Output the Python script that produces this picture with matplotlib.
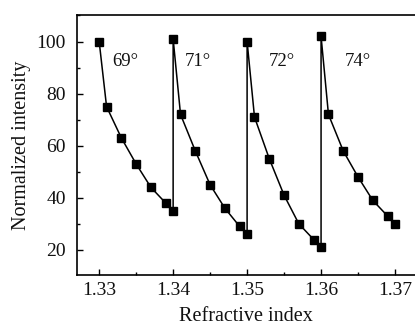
import matplotlib.pyplot as plt
from matplotlib.ticker import MultipleLocator

plt.rcParams['font.family'] = ['Liberation Serif', 'DejaVu Serif']

# refractive index and normalized intensity for each angle
n69 = [1.330, 1.331, 1.333, 1.335, 1.337, 1.339, 1.340]
i69 = [100, 75, 63, 53, 44, 38, 35]
n71 = [1.340, 1.341, 1.343, 1.345, 1.347, 1.349, 1.350]
i71 = [101, 72, 58, 45, 36, 29, 26]
n72 = [1.350, 1.351, 1.353, 1.355, 1.357, 1.359, 1.360]
i72 = [100, 71, 55, 41, 30, 24, 21]
n74 = [1.360, 1.361, 1.363, 1.365, 1.367, 1.369, 1.370]
i74 = [102, 72, 58, 48, 39, 33, 30]

angles = ['69°', '71°', '72°', '74°']
label_x = [1.3335, 1.3434, 1.3547, 1.3650]
label_y = 92.5

fig = plt.figure(figsize=(4.15, 3.25), dpi=100)
ax = fig.add_axes([0.1855, 0.154, 0.8145, 0.8])

x = n69 + n71 + n72 + n74
y = i69 + i71 + i72 + i74
ax.plot(x, y, color='black', lw=1.1, marker='s', ms=5.4, mfc='black', mec='black')

for a, lx in zip(angles, label_x):
    ax.text(lx, label_y, a, ha='center', va='center', fontsize=13.5, color='#111111')

ax.set_xlim(1.3270, 1.3727)
ax.set_ylim(10.4, 110.2)
ax.xaxis.set_minor_locator(MultipleLocator(0.005))
ax.yaxis.set_major_locator(MultipleLocator(20))
ax.yaxis.set_minor_locator(MultipleLocator(10))
ax.set_xticks([1.33, 1.34, 1.35, 1.36, 1.37])
ax.set_xticklabels(['1.33', '1.34', '1.35', '1.36', '1.37'])
ax.tick_params(which='both', direction='in', labelsize=14, width=1, labelcolor='#111111')
ax.tick_params(which='major', length=4)
ax.tick_params(which='minor', length=2.5)
ax.tick_params(axis='y', pad=8)
ax.tick_params(axis='x', pad=5)
ax.spines['right'].set_visible(False)
for s in ['left', 'top', 'bottom']:
    ax.spines[s].set_linewidth(1.2)

ax.set_xlabel('Refractive index', fontsize=14.5, labelpad=5.5, color='#111111')
ax.set_ylabel('Normalized intensity', fontsize=14.5, labelpad=4, color='#111111')

fig.savefig('out.png', dpi=100)
